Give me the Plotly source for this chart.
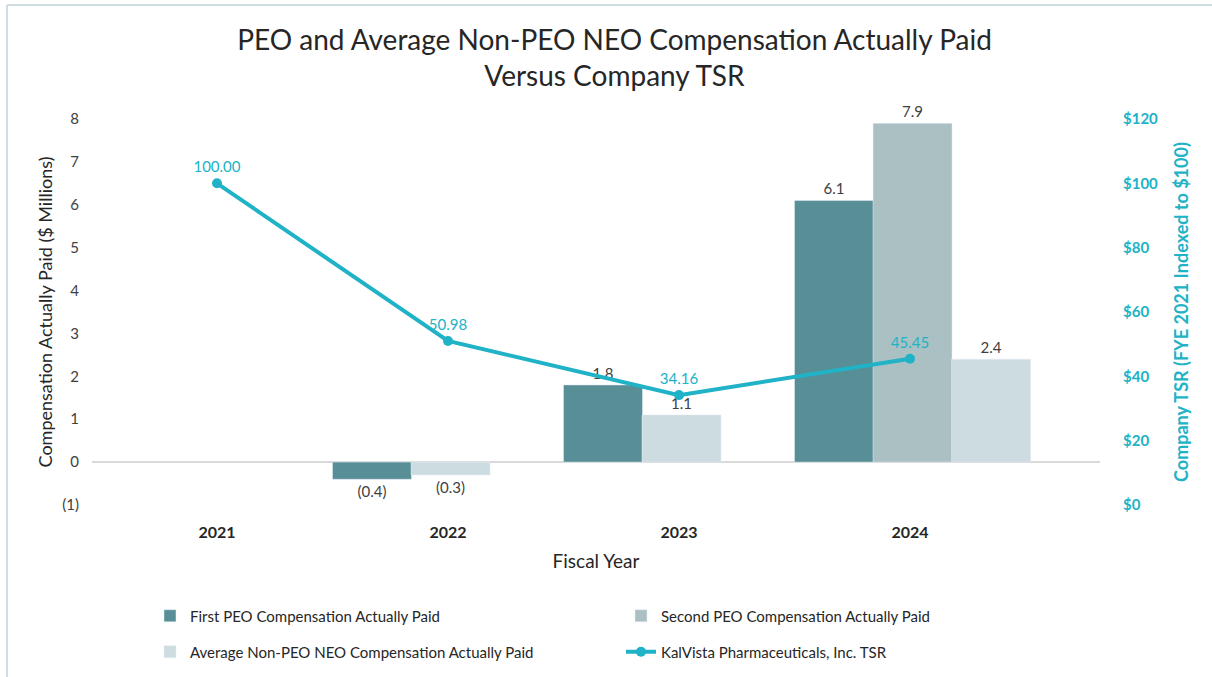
import plotly.graph_objects as go

years = ["2021", "2022", "2023", "2024"]
first_peo = [None, -0.4, 1.8, 6.1]
second_peo = [None, None, None, 7.9]
non_peo = [None, -0.3, 1.1, 2.4]
tsr = [100.00, 50.98, 34.16, 45.45]

left_ticks = [-1, 0, 1, 2, 3, 4, 5, 6, 7, 8]
right_ticks = [0, 20, 40, 60, 80, 100, 120]

C_FIRST = "#588f97"
C_SECOND = "#abc0c3"
C_NON = "#cddce0"
C_LINE = "#20b2c6"
C_TXT = "#404040"
FONT = "Lato"

xs = list(range(len(years)))
BW = 0.342

# plot area in pixels
PL, PR, PT, PB = 92, 1100, 119, 505
PW, PH = PR - PL, PB - PT


def px_x(p):
    return (p - PL) / PW


def px_y(p):
    return (PB - p) / PH


def fmt(v):
    if v is None:
        return ""
    return f"({abs(v):.1f})" if v < 0 else f"{v:.1f}"


def tick_fmt(v):
    return f"({abs(v)})" if v < 0 else str(v)


fig = go.Figure()
fig.add_trace(go.Bar(
    x=xs, y=first_peo, name="First PEO Compensation Actually Paid",
    marker_color=C_FIRST, width=BW, offset=-0.5,
    text=[fmt(v) for v in first_peo], textposition="outside",
    textfont=dict(size=15, color=C_TXT, family=FONT), cliponaxis=False,
    legend="legend"))
fig.add_trace(go.Bar(
    x=xs, y=second_peo, name="Second PEO Compensation Actually Paid",
    marker_color=C_SECOND, width=BW, offset=-0.16,
    text=[fmt(v) for v in second_peo], textposition="outside",
    textfont=dict(size=15, color=C_TXT, family=FONT), cliponaxis=False,
    legend="legend2"))
fig.add_trace(go.Bar(
    x=xs, y=non_peo, name="Average Non-PEO NEO Compensation Actually Paid",
    marker_color=C_NON, width=BW,
    offset=[-0.16 if second_peo[i] is None else 0.18 for i in xs],
    text=[fmt(v) for v in non_peo], textposition="outside",
    textfont=dict(size=15, color=C_TXT, family=FONT), cliponaxis=False,
    legend="legend3"))
fig.add_trace(go.Scatter(
    x=xs, y=tsr, name="KalVista Pharmaceuticals, Inc. TSR", yaxis="y2",
    mode="lines+markers+text", line=dict(color=C_LINE, width=4),
    marker=dict(color=C_LINE, size=10),
    text=[f"{v:.2f}" for v in tsr], textposition="top center",
    textfont=dict(size=15, color=C_LINE, family=FONT), cliponaxis=False,
    legend="legend4"))

leg_common = dict(orientation="h", xanchor="left", yanchor="middle",
                  font=dict(size=15, color="#262626", family=FONT),
                  bgcolor="rgba(0,0,0,0)")

fig.update_layout(
    width=1212, height=677,
    paper_bgcolor="white", plot_bgcolor="white",
    font=dict(family=FONT, color=C_TXT),
    margin=dict(l=PL, r=1212 - PR, t=PT, b=677 - PB, autoexpand=False),
    barmode="overlay",
    showlegend=True,
    title=dict(
        text="PEO and Average Non-PEO NEO Compensation Actually Paid<br>Versus Company TSR",
        x=0.507, xanchor="center", y=0.926, yanchor="middle",
        font=dict(size=28, color="#262626", family=FONT)),
    xaxis=dict(
        range=[-125 / 231, (PW - 125) / 231],
        tickvals=xs, ticktext=years, showgrid=False, zeroline=False,
        showline=False, ticks="", ticklabelstandoff=16,
        tickfont=dict(size=16, color="#262626", family=FONT, weight="bold"),
        title=dict(text="Fiscal Year", font=dict(size=19, color="#262626"), standoff=14)),
    yaxis=dict(
        range=[-1, 8], tickvals=left_ticks, ticktext=[tick_fmt(v) for v in left_ticks],
        showgrid=False, zeroline=True, zerolinecolor="#d9d9d9", zerolinewidth=2,
        tickfont=dict(size=15, color=C_TXT), ticklabelstandoff=12,
        title=dict(text="Compensation Actually Paid ($ Millions)",
                   font=dict(size=18, color="#262626"), standoff=4)),
    yaxis2=dict(
        range=[0, 120], tickvals=right_ticks,
        ticktext=[f"${v}" for v in right_ticks], overlaying="y",
        side="right", showgrid=False, zeroline=False,
        tickfont=dict(size=15, color=C_LINE, family=FONT, weight="bold"),
        ticklabelstandoff=22,
        title=dict(text="Company TSR (FYE 2021 Indexed to $100)",
                   font=dict(size=18, color=C_LINE, family=FONT, weight="bold"),
                   standoff=18)),
    legend=dict(x=px_x(150), y=px_y(616), **leg_common),
    legend2=dict(x=px_x(621), y=px_y(616), **leg_common),
    legend3=dict(x=px_x(150), y=px_y(652), **leg_common),
    legend4=dict(x=px_x(621), y=px_y(652), **leg_common),
    shapes=[
        dict(type="line", xref="paper", yref="paper",
             x0=px_x(7), x1=px_x(1212), y0=px_y(5), y1=px_y(5),
             line=dict(color="#cfdde3", width=2)),
        dict(type="line", xref="paper", yref="paper",
             x0=px_x(7), x1=px_x(7), y0=px_y(5), y1=px_y(677),
             line=dict(color="#cfdde3", width=2)),
    ],
)

fig.write_html("out.html", config={"displayModeBar": False},
               post_script="document.body.style.margin='0';")
